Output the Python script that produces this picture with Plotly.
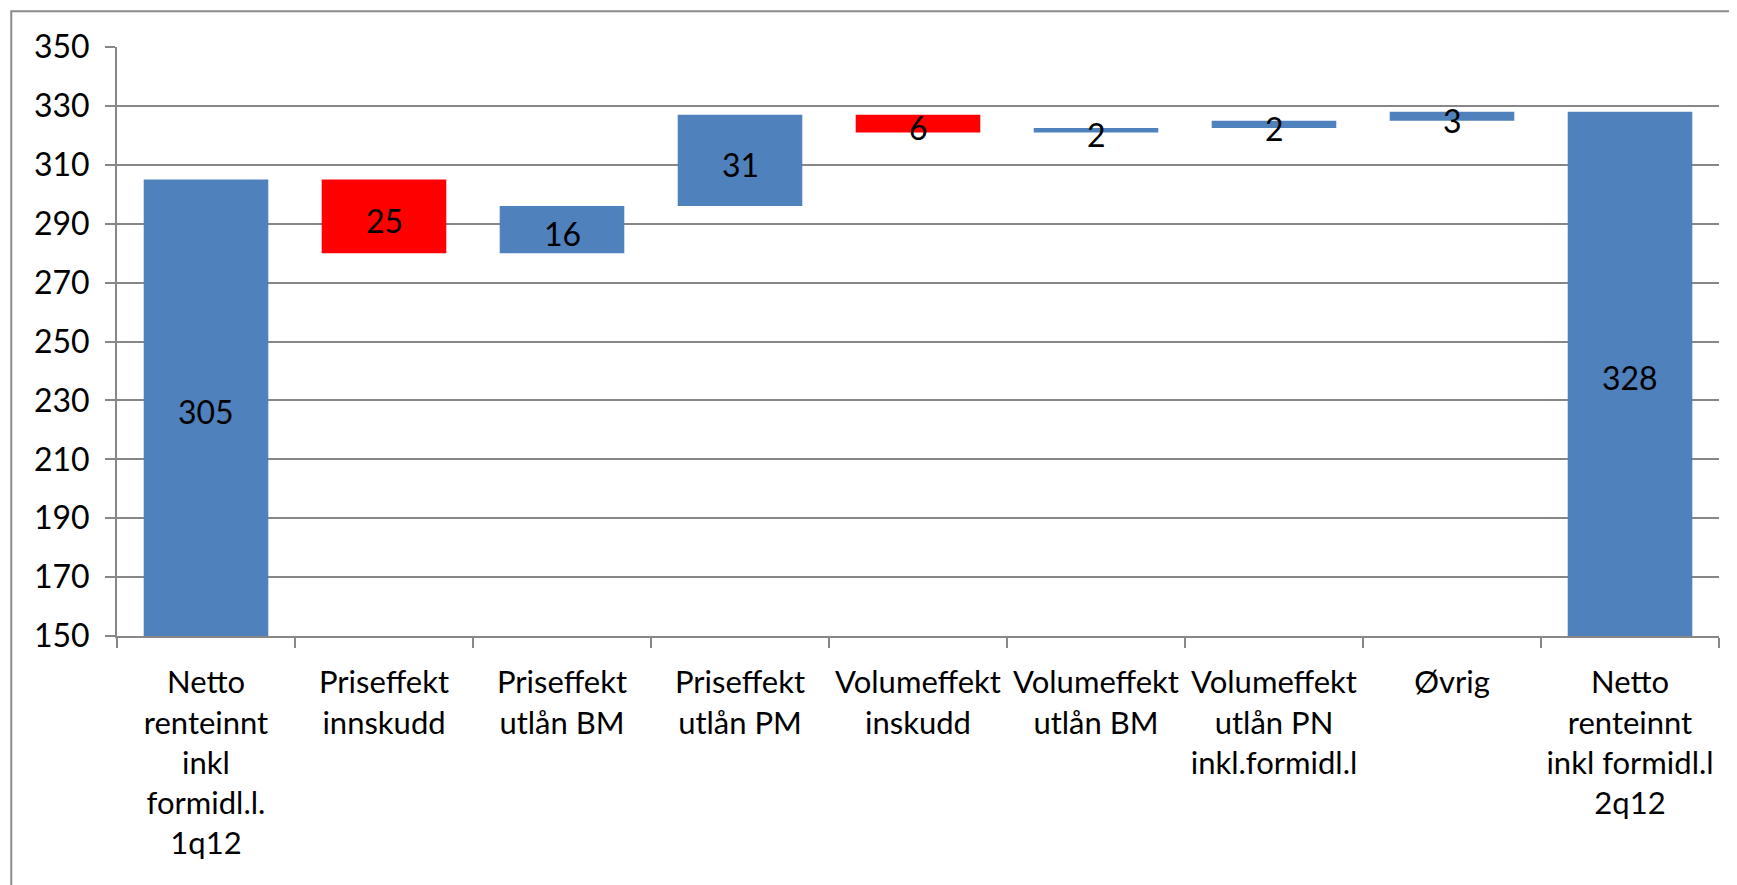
import plotly.graph_objects as go

categories = [
    "Netto<br>renteinnt<br>inkl<br>formidl.l.<br>1q12",
    "Priseffekt<br>innskudd",
    "Priseffekt<br>utlån BM",
    "Priseffekt<br>utlån PM",
    "Volumeffekt<br>inskudd",
    "Volumeffekt<br>utlån BM",
    "Volumeffekt<br>utlån PN<br>inkl.formidl.l",
    "Øvrig",
    "Netto<br>renteinnt<br>inkl formidl.l<br>2q12",
]
measures = ["absolute", "relative", "relative", "relative", "relative",
            "relative", "relative", "relative", "total"]
values = [305, -25, 16, 31, -6, 1.5, 2.5, 3, 0]
labels = ["305", "25", "16", "31", "6", "2", "2", "3", "328"]

y_min, y_max = 150, 350
BLUE = "#4F81BD"
RED = "#FF0000"
GRID = "#878787"
FONT = "Lato"

# label sits in the middle of the visible part of each bar
mids = []
level = 0
for m, v in zip(measures, values):
    if m == "absolute":
        level = v
        mids.append((y_min + v) / 2)
    elif m == "relative":
        mids.append(level + v / 2)
        level += v
    else:
        mids.append((y_min + level) / 2)

fig = go.Figure()
fig.add_trace(go.Waterfall(
    x=categories, y=values, measure=measures,
    increasing=dict(marker=dict(color=BLUE, line=dict(width=0))),
    decreasing=dict(marker=dict(color=RED, line=dict(width=0))),
    totals=dict(marker=dict(color=BLUE, line=dict(width=0))),
    connector=dict(visible=False),
    hoverinfo="skip", showlegend=False,
))

annotations = [
    dict(x=c, y=m, text=t, showarrow=False, yshift=-4,
         font=dict(family=FONT, size=32, color="black"))
    for c, m, t in zip(categories, mids, labels)
]

# the page body adds an 8px offset, so the figure is 8px smaller than the window
fig.update_layout(
    width=1729, height=877,
    margin=dict(l=109, r=18, t=39, b=249, autoexpand=False),
    paper_bgcolor="white", plot_bgcolor="white",
    waterfallgap=0.3,
    font=dict(family=FONT, size=32, color="black"),
    annotations=annotations,
    shapes=[dict(type="rect", xref="paper", yref="paper",
                 x0=-0.066, x1=1.2, y0=-1.0, y1=1.0605,
                 line=dict(color="#8C8C8C", width=2), layer="below")],
)
fig.update_xaxes(
    type="category", showgrid=False, showline=True, linecolor=GRID, linewidth=2,
    ticks="outside", tickson="boundaries", ticklen=10, tickcolor=GRID, tickwidth=2,
    tickangle=0,
    tickfont=dict(family=FONT, size=31, color="black"), ticklabelstandoff=18,
)
fig.update_yaxes(
    range=[y_min, y_max], dtick=20, tick0=150,
    showgrid=True, gridcolor=GRID, gridwidth=2,
    showline=True, linecolor=GRID, linewidth=2, zeroline=False,
    ticks="outside", ticklen=10, tickcolor=GRID, tickwidth=2,
    tickfont=dict(family=FONT, size=32, color="black"), ticklabelstandoff=9,
)

fig.write_html("out.html")
